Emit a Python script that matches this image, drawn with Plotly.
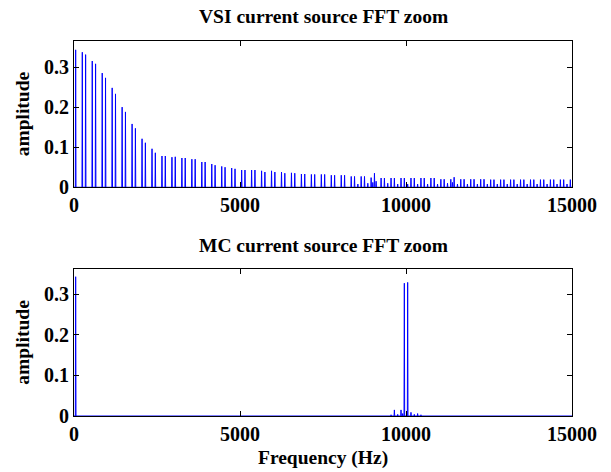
import plotly.graph_objects as go

# ---------------- data ----------------
# VSI current source spectrum: fundamental + 6k±1 harmonics (Hz, amplitude)
vsi_freq = [50,
            250, 350, 550, 650, 850, 950, 1150, 1250, 1450, 1550,
            1750, 1850, 2050, 2150, 2350, 2450, 2650, 2750, 2950, 3050,
            3250, 3350, 3550, 3650, 3850, 3950, 4150, 4250, 4450, 4550,
            4750, 4850, 5050, 5150, 5350, 5450, 5650, 5750, 5950, 6050,
            6250, 6350, 6550, 6650, 6850, 6950, 7150, 7250, 7450, 7550,
            7750, 7850, 8050, 8150, 8350, 8450, 8650, 8750, 8950, 9050,
            9250, 9350, 9550, 9650, 9850, 9950, 10150, 10250, 10450, 10550,
            10750, 10850, 11050, 11150, 11350, 11450, 11650, 11750, 11950, 12050,
            12250, 12350, 12550, 12650, 12850, 12950, 13150, 13250, 13450, 13550,
            13750, 13850, 14050, 14150, 14350, 14450, 14650, 14750, 14950]
vsi_amp = [0.343,
           0.337, 0.331, 0.315, 0.308, 0.285, 0.273, 0.248, 0.233, 0.200, 0.188,
           0.158, 0.147, 0.121, 0.111, 0.096, 0.086, 0.078, 0.078, 0.075, 0.076,
           0.073, 0.073, 0.070, 0.070, 0.063, 0.063, 0.058, 0.055, 0.052, 0.050,
           0.048, 0.046, 0.043, 0.043, 0.043, 0.043, 0.041, 0.038, 0.041, 0.038,
           0.038, 0.035, 0.036, 0.035, 0.033, 0.033, 0.032, 0.032, 0.032, 0.032,
           0.030, 0.030, 0.030, 0.030, 0.027, 0.027, 0.027, 0.027, 0.024, 0.035,
           0.023, 0.023, 0.023, 0.023, 0.023, 0.023, 0.023, 0.023, 0.023, 0.023,
           0.023, 0.023, 0.020, 0.020, 0.020, 0.025, 0.020, 0.020, 0.020, 0.020,
           0.020, 0.020, 0.019, 0.019, 0.019, 0.019, 0.019, 0.019, 0.019, 0.019,
           0.019, 0.019, 0.019, 0.019, 0.019, 0.019, 0.019, 0.019, 0.019]
# small inter-harmonic components of the VSI spectrum
vsi_minor_freq = [8550, 8850, 9000, 9100, 9450, 9750, 10050, 10350, 10650,
                  10950, 11250, 11400, 11550, 11850, 12150, 12450, 12750,
                  13050, 13350, 13650, 13950, 14250, 14550, 14850]
vsi_minor_amp = [0.008, 0.010, 0.012, 0.015, 0.010, 0.008, 0.008, 0.008, 0.008,
                 0.008, 0.010, 0.012, 0.008, 0.008, 0.008, 0.008, 0.008,
                 0.008, 0.008, 0.008, 0.008, 0.008, 0.008, 0.008]

# MC current source spectrum
mc_freq = [50, 9550, 9650, 9750, 9850, 9900, 9950, 10050, 10150, 10250, 10350, 10450]
mc_amp = [0.343, 0.003, 0.015, 0.004, 0.015, 0.006, 0.327, 0.329, 0.009, 0.004, 0.006, 0.003]

x_ticks = [0, 5000, 10000, 15000]
x_ticklabels = ["0", "5000", "10000", "15000"]
y_ticks = [0, 0.1, 0.2, 0.3]
y_ticklabels = ["0", "0.1", "0.2", "0.3"]
F_MAX = 15000

# ---------------- build spike lines ----------------
def spectrum_line(freqs, amps, half_width=10):
    pairs = sorted(zip(freqs, amps))
    xs, ys = [0], [0]
    for f, a in pairs:
        xs += [f - half_width, f, f + half_width]
        ys += [0, a, 0]
    xs.append(F_MAX)
    ys.append(0)
    return xs, ys

vx, vy = spectrum_line(vsi_freq + vsi_minor_freq, vsi_amp + vsi_minor_amp)
mx, my = spectrum_line(mc_freq, mc_amp)

FONT = "Liberation Serif"
FS_TICK = 20
FS_LABEL = 19.5
BLUE = "#0000ff"

fig = go.Figure()
fig.add_trace(go.Scatter(x=vx, y=vy, mode="lines", line=dict(color=BLUE, width=1),
                         xaxis="x", yaxis="y", showlegend=False, hoverinfo="skip"))
fig.add_trace(go.Scatter(x=mx, y=my, mode="lines", line=dict(color=BLUE, width=1),
                         xaxis="x2", yaxis="y2", showlegend=False, hoverinfo="skip"))

axis_common = dict(showline=True, linecolor="black", linewidth=1, mirror="ticks",
                   ticks="inside", ticklen=5, tickcolor="black", showgrid=False,
                   zeroline=False,
                   tickfont=dict(family=FONT, size=FS_TICK, color="black", weight="bold"))

fig.update_layout(
    width=611, height=472,
    margin=dict(l=74, r=39, t=41, b=56),
    paper_bgcolor="white", plot_bgcolor="white",
    xaxis=dict(domain=[0, 1], range=[0, F_MAX], tickvals=x_ticks, ticktext=x_ticklabels,
               anchor="y", **axis_common),
    yaxis=dict(domain=[0.610, 1], range=[0, 0.365], tickvals=y_ticks,
               ticktext=y_ticklabels, anchor="x", **axis_common),
    xaxis2=dict(domain=[0, 1], range=[0, F_MAX], tickvals=x_ticks, ticktext=x_ticklabels,
                anchor="y2", **axis_common),
    yaxis2=dict(domain=[0, 0.392], range=[0, 0.362], tickvals=y_ticks,
                ticktext=y_ticklabels, anchor="x2", **axis_common),
)

ann_font = dict(family=FONT, size=FS_LABEL, color="black", weight="bold")
annotations = [
    dict(text="VSI current source FFT zoom", x=0.5, y=1.064),
    dict(text="MC current source FFT zoom", x=0.5, y=0.456),
    dict(text="Frequency (Hz)", x=0.5, y=-0.112),
    dict(text="amplitude", x=-0.104, y=0.805, textangle=-90),
    dict(text="amplitude", x=-0.104, y=0.196, textangle=-90),
]
for a in annotations:
    fig.add_annotation(xref="paper", yref="paper", showarrow=False,
                       xanchor="center", yanchor="middle", font=ann_font, **a)

fig.write_html("out.html", config={"displayModeBar": False},
               post_script="document.body.style.margin='0';document.body.style.overflow='hidden';")
